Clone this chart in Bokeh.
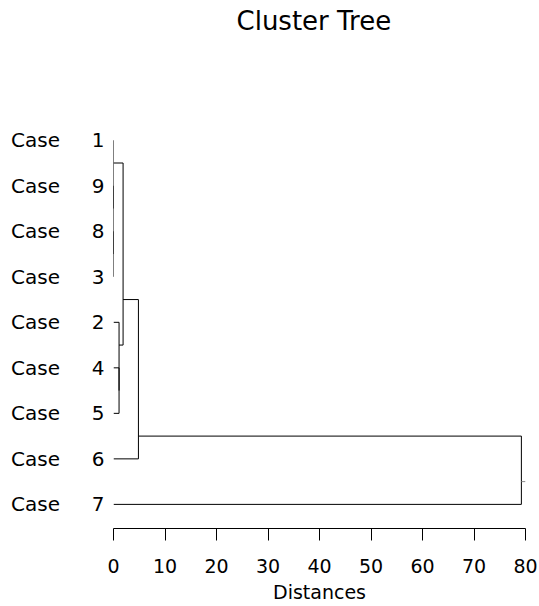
from bokeh.plotting import figure
from bokeh.models import Range1d, FixedTicker, Title
from bokeh.embed import file_html
from bokeh.resources import INLINE

# ---- data ----
title_text = "Cluster Tree"
leaf_labels = ["1", "9", "8", "3", "2", "4", "5", "6", "7"]
# merges (linkage style): node ids 0..8 are leaves (in display order), 9+ are merges
merge_left = [2, 1, 0, 5, 4, 11, 14, 15]
merge_right = [3, 9, 10, 6, 12, 13, 7, 8]
merge_height = [0.0, 0.0, 0.0, 1.08, 1.08, 1.86, 4.84, 79.2]
x_ticks = [0, 10, 20, 30, 40, 50, 60, 70, 80]

n = len(leaf_labels)
ypos = {i: float(i) for i in range(n)}
hgt = {i: 0.0 for i in range(n)}
lo = {i: i for i in range(n)}
hi = {i: i for i in range(n)}

hx0, hx1, hy = [], [], []
vx, vy0, vy1 = [], [], []
for k, (a, b, h) in enumerate(zip(merge_left, merge_right, merge_height)):
    node = n + k
    lo[node] = lo[a]
    hi[node] = hi[b]
    ypos[node] = (hi[a] + lo[b]) / 2.0
    hgt[node] = h
    for c in (a, b):
        hx0.append(hgt[c]); hx1.append(h); hy.append(ypos[c])
    vx.append(h); vy0.append(ypos[a]); vy1.append(ypos[b])

root = n + len(merge_height) - 1

p = figure(width=539, height=606, output_backend="svg", toolbar_location=None,
           x_range=Range1d(0, 80), y_range=Range1d(8.53, -0.5),
           min_border_left=113, min_border_right=14, min_border_top=117,
           min_border_bottom=78, title=title_text)

p.segment(x0=hx0, y0=hy, x1=hx1, y1=hy, line_color="black", line_width=1)
p.segment(x0=vx, y0=vy0, x1=vx, y1=vy1, line_color="black", line_width=1)
# root stub
p.segment(x0=[hgt[root]], y0=[ypos[root]], x1=[x_ticks[-1]], y1=[ypos[root]],
          line_color="#888888", line_width=1)

# empty spacer between title and frame
spacer = Title(text="\u00a0", text_font_size="10px", standoff=67)
p.add_layout(spacer, "above")

p.title.align = "left"
p.title.offset = 123
p.title.text_font = "DejaVu Sans"
p.title.text_font_size = "26px"
p.title.text_font_style = "normal"
p.title.text_color = "black"
p.title.standoff = 4

p.outline_line_color = None
p.xgrid.visible = False
p.ygrid.visible = False
p.background_fill_color = "white"
p.border_fill_color = "white"

xa = p.xaxis[0]
xa.ticker = FixedTicker(ticks=x_ticks)
xa.axis_label = "Distances"
xa.axis_label_text_font = "DejaVu Sans"
xa.axis_label_text_font_size = "19px"
xa.axis_label_text_font_style = "normal"
xa.axis_label_text_color = "black"
xa.axis_label_standoff = 5
xa.major_label_text_font = "DejaVu Sans"
xa.major_label_text_font_size = "19px"
xa.major_label_text_color = "black"
xa.major_tick_in = 0
xa.major_tick_out = 12
xa.major_label_standoff = 18
xa.minor_tick_line_color = None
xa.axis_line_color = "black"
xa.major_tick_line_color = "black"

ya = p.yaxis[0]
ya.ticker = FixedTicker(ticks=list(range(n)))
ya.major_label_overrides = {i: "Case\u00a0\u00a0\u00a0\u00a0\u00a0" + lab for i, lab in enumerate(leaf_labels)}
ya.major_label_text_font = "DejaVu Sans"
ya.major_label_text_font_size = "20px"
ya.major_label_text_color = "black"
ya.axis_line_color = None
ya.major_tick_line_color = None
ya.minor_tick_line_color = None
ya.major_tick_in = 0
ya.major_tick_out = 0
ya.major_label_standoff = 9

open("out.html", "w").write(file_html(p, INLINE))
